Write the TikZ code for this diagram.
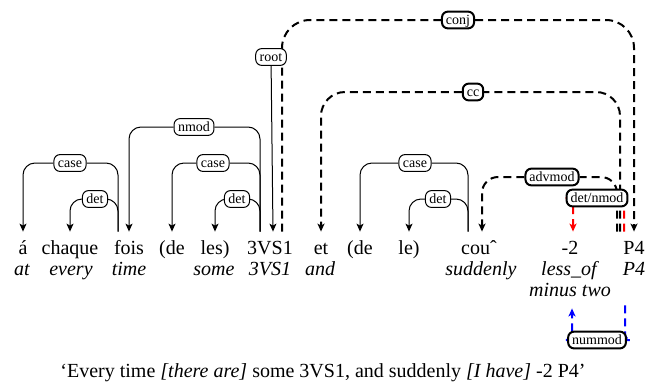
\documentclass[tikz,border=0pt]{standalone}
\usepackage{fontspec}
\setmainfont{Liberation Serif}
\usetikzlibrary{arrows.meta,calc}
\pgfdeclarelayer{edges}
\pgfsetlayers{edges,main}
\tikzset{
  word/.style={anchor=base, text height=7pt, text depth=2pt, inner xsep=1pt, inner ysep=4.25pt},
  gloss/.style={anchor=base, font=\itshape, text height=7pt, text depth=2pt, inner xsep=1pt, inner ysep=4pt},
  rel/.style={draw, rounded corners=3pt, fill=white, font=\fontsize{7}{8}\selectfont,
    inner xsep=2pt, inner ysep=1.2pt, text height=5pt, text depth=1pt, line width=0.5pt},
  relthick/.style={rel, line width=1pt},
  dep/.style={-{Stealth[length=4pt,width=3.5pt,inset=1pt]}, line width=0.5pt, rounded corners=6pt},
  depdash/.style={dep, line width=1pt, dash pattern=on 4pt off 2.5pt},
}
\begin{document}
\begin{tikzpicture}[x=0.5pt,y=0.5pt]
    \useasboundingbox (0,0) rectangle (646,387);

    % words
    \node [word] (a) at (23,132.5) {á};
    \node [word] (chaque) at (70,132.5) {chaque};
    \node [word] (fois) at (129,132.5) {fois};
    \node [word] (deA) at (172,132.5) {(de};
    \node [word] (les) at (215,132.5) {les)};
    \node [word] (vs) at (270,132.5) {3VS1};
    \node [word] (et) at (321,132.5) {et};
    \node [word] (deB) at (360,132.5) {(de};
    \node [word] (le) at (409,132.5) {le)};
    \node [word] (cou) at (479,132.5) {couˆ};
    \node [word] (two) at (570,132.5) {-2};
    \node [word] (p4) at (634,132.5) {P4};

    % glosses
    \node [gloss] (at) at (22,112) {at};
    \node [gloss] (every) at (71,112) {every};
    \node [gloss] (time) at (129,112) {time};
    \node [gloss] (some) at (214,112) {some};
    \node [gloss] (vsg) at (270,112) {3VS1};
    \node [gloss] (and) at (320,112) {and};
    \node [gloss] (suddenly) at (481,112) {suddenly};
    \node [gloss] (lessof) at (569,112) {less\_of};
    \node [gloss] (p4g) at (634,112) {P4};
    \node [gloss] (mt) at (570,91) {minus two};

    % relation labels
    \node [rel] (caseA) at (70,224) {case};
    \node [rel] (detA) at (95,188) {det};
    \node [rel] (nmod) at (194,260) {nmod};
    \node [rel] (caseB) at (213,224) {case};
    \node [rel] (detB) at (237,188) {det};
    \node [rel] (root) at (271,330) {root};
    \node [rel] (caseC) at (415,224) {case};
    \node [rel] (detC) at (438,188) {det};
    \node [relthick] (conj) at (458,367) {conj};
    \node [relthick] (cc) at (473,295) {cc};
    \node [relthick] (advmod) at (552,210) {advmod};
    \node [relthick] (detnmod) at (597,189) {det/nmod};
    \node [relthick] (nummod) at (597,47) {nummod};

    \node (caption) at (323,14) {`Every time \textit{[there are]} some 3VS1, and suddenly \textit{[I have]} -2 P4'};

    \begin{pgfonlayer}{edges}
      \draw [dep] ([xshift=-5.5pt]fois.north) |- (caseA) -| (a.north);
      \draw [dep] ([xshift=-5.5pt]fois.north) |- (detA) -| (chaque.north);
      \draw [dep] ([xshift=-5pt]vs.north) |- (nmod) -| (fois.north);
      \draw [dep] ([xshift=-5pt]vs.north) |- (caseB) -| (deA.north);
      \draw [dep] ([xshift=-5pt]vs.north) |- (detB) -| (les.north);
      \draw [dep] (root) -- ([xshift=1pt]root |- vs.north);
      \draw [dep] ([xshift=-5.5pt]cou.north) |- (caseC) -| (deB.north);
      \draw [dep] ([xshift=-5.5pt]cou.north) |- (detC) -| (le.north);

      \draw [depdash, rounded corners=14pt] ([xshift=6pt]vs.north) |- (conj) -| (p4.north);
      \draw [depdash, rounded corners=12pt] ([xshift=-7pt]p4.north) |- (cc) -| (et.north);
      \draw [depdash, rounded corners=8pt] ([xshift=-8.5pt]p4.north) |- (advmod) -| ([xshift=1.5pt]cou.north);
      \draw [depdash, red, rounded corners=3pt] ([xshift=-5pt]p4.north) |- (detnmod) -| ([xshift=1.5pt]two.north);
      \draw [depdash, blue, rounded corners=3pt] ($(mt.south -| p4g.south)+(-9,3)$) |- (nummod) -| ([xshift=1pt]mt.south);
    \end{pgfonlayer}
\end{tikzpicture}
\end{document}
